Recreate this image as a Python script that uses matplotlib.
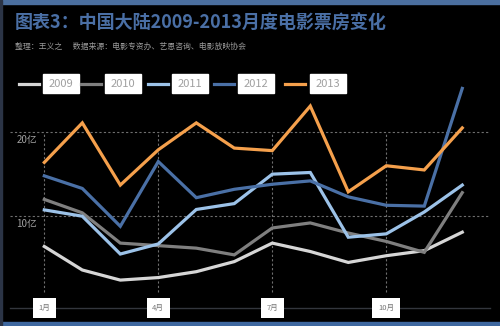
import numpy as np
import matplotlib.pyplot as plt
from matplotlib.patches import Rectangle
from matplotlib.lines import Line2D

plt.rcParams['font.family'] = ['Noto Sans CJK SC', 'DejaVu Sans']

# monthly box office, 100M yuan (亿)
months = np.arange(1, 13)
years = ['2009', '2010', '2011', '2012', '2013']
box_2009 = [6.4, 3.6, 2.4, 2.7, 3.4, 4.6, 6.8, 5.8, 4.5, 5.3, 5.9, 8.1]
box_2010 = [12.0, 10.4, 6.8, 6.5, 6.2, 5.4, 8.6, 9.2, 8.0, 7.0, 5.7, 12.8]
box_2011 = [10.75, 10.0, 5.5, 6.7, 10.8, 11.5, 15.0, 15.2, 7.5, 7.9, 10.5, 13.7]
box_2012 = [14.8, 13.3, 8.8, 16.5, 12.2, 13.2, 13.8, 14.2, 12.3, 11.3, 11.2, 25.2]
box_2013 = [16.4, 21.1, 13.7, 17.9, 21.1, 18.1, 17.8, 23.1, 12.9, 16.0, 15.5, 20.5]
series = [box_2009, box_2010, box_2011, box_2012, box_2013]
colors = ['#d6d6d6', '#7f7f7f', '#9cc2e8', '#4a70a6', '#f5a04c']

xtick_months = [1, 4, 7, 10]
xtick_labels = ['1月', '4月', '7月', '10月']
ytick_vals = [10, 20]
ytick_labels = ['10亿', '20亿']

fig = plt.figure(figsize=(5, 3.26), dpi=100, facecolor='black')

# frame bands
fig.patches.append(Rectangle((0, 0.988), 1, 0.012, transform=fig.transFigure,
                             color='#4b6f9f', zorder=0))
fig.patches.append(Rectangle((0, 0), 1, 0.013, transform=fig.transFigure,
                             color='#3e68a0', zorder=0))
fig.patches.append(Rectangle((0, 0), 0.004, 1, transform=fig.transFigure,
                             color='#2b3446', zorder=0))

fig.text(0.03, 0.93, '图表3：中国大陆2009-2013月度电影票房变化', color='#4a6fa5',
         fontsize=13, fontweight='bold', va='center')
fig.text(0.03, 0.858, '整理：王义之      数据来源：电影专资办、艺恩咨询、电影放映协会',
         color='#9a9a9a', fontsize=5.7, va='center')

ax = fig.add_axes([0.02, 0.0552, 0.96, 0.6994])
ax.set_facecolor('black')
ax.set_xlim(0.097, 12.73)
ax.set_ylim(-0.92, 26.2)

for yv in ytick_vals:
    ax.axhline(yv, color='#6e6e6e', lw=0.8, ls=(0, (2, 2)), zorder=1)
ax.vlines(xtick_months, 1, 20, color='#6e6e6e', lw=0.8, linestyles=(0, (2, 2)), zorder=1)

for vals, c in zip(series, colors):
    ax.plot(months, vals, color=c, lw=2.3, solid_joinstyle='miter', zorder=3)

for yv, lab in zip(ytick_vals, ytick_labels):
    ax.text(0.27, yv - 0.35, lab, color='#a0a0a0', fontsize=7, va='top', ha='left')

for m, lab in zip(xtick_months, xtick_labels):
    ax.text(m, -0.92, lab, color='#777777', fontsize=5.5, ha='center', va='center',
            bbox=dict(boxstyle='square,pad=0.75', fc='white', ec='none'), zorder=5)

ax.set_xticks([])
ax.set_yticks([])
for s in ['top', 'right', 'left']:
    ax.spines[s].set_visible(False)
ax.spines['bottom'].set_color('#33363d')
ax.spines['bottom'].set_linewidth(1.0)

# legend: line sample + white label box
leg_y = 1 - 84 / 326
line_x = [19, 81, 148, 214, 285]
box_x = [43, 105, 172, 238, 310]
for yr, c, lx, bx in zip(years, colors, line_x, box_x):
    fig.lines.append(Line2D([lx / 500, (lx + 20) / 500], [leg_y, leg_y],
                            transform=fig.transFigure, color=c, lw=2.3))
    fig.patches.append(Rectangle((bx / 500, (326 - 93) / 326), 36 / 500, 19 / 326,
                                 transform=fig.transFigure, color='white'))
    fig.text((bx + 18) / 500, leg_y, yr, color='#a0a0a0', fontsize=8,
             ha='center', va='center')

fig.savefig('out.png', dpi=100, facecolor='black')
